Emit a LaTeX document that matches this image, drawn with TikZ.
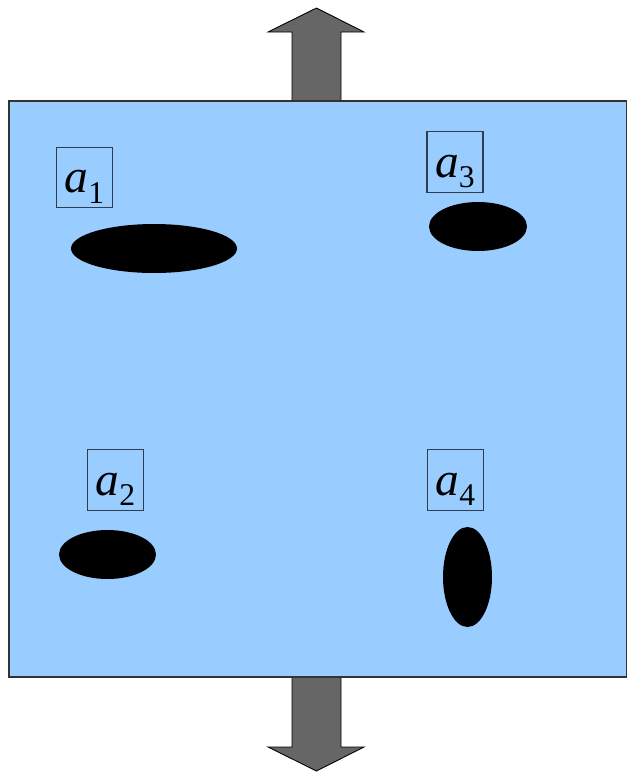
\documentclass[tikz,border=0pt]{standalone}
\usepackage{fontspec}
\setmainfont{Liberation Serif}
\usepackage{tikz}
\usetikzlibrary{shapes.geometric}
\usepackage{xcolor}
\definecolor{cSky}{RGB}{153,204,255}
\definecolor{cArrow}{RGB}{102,102,102}
\definecolor{cEdge}{RGB}{50,60,75}
\newcommand{\alab}[1]{\fontsize{27}{27}\selectfont\itshape a\raisebox{-6.2pt}{\upshape\fontsize{18}{18}\selectfont #1}}
\tikzset{
  plate/.style={draw=black!80, line width=0.6pt, fill=cSky},
  labelbox/.style={rectangle, draw=cEdge, line width=0.6pt, inner sep=0pt,
                   minimum width=1.12cm, minimum height=1.21cm,
                   text height=0.82cm, text depth=0.22cm},
  spot/.style={ellipse, fill=black, inner sep=0pt},
  blockarrow/.style={draw=black, line width=0.5pt, fill=cArrow, line join=miter}
}
\begin{document}
\begin{tikzpicture}[x=0.02cm, y=-0.02cm]
  \useasboundingbox (0,0) rectangle (627,772);

  % block arrows, up and down
  \draw[blockarrow] (292,101) -- (292,32) -- (268,32) -- (316.5,8)
    -- (364,32) -- (341,32) -- (341,101);
  \draw[blockarrow] (292,677) -- (292,747) -- (268,747) -- (316.5,771)
    -- (364,747) -- (341,747) -- (341,677);

  % the plate
  \draw[plate] (9,101) rectangle (626.5,677);

  % labels
  \node[labelbox] (a1) at (84.5,177.5) {\alab{1}};
  \node[labelbox] (a3) at (455,162)    {\alab{3}};
  \node[labelbox] (a2) at (115.5,480)  {\alab{2}};
  \node[labelbox] (a4) at (455.5,480)  {\alab{4}};

  % spots
  \node[spot, minimum width=3.32cm, minimum height=0.98cm] (s1) at (154,248.5) {};
  \node[spot, minimum width=1.96cm, minimum height=0.98cm] (s3) at (478,226.5) {};
  \node[spot, minimum width=1.94cm, minimum height=0.98cm] (s2) at (107.5,554.5) {};
  \node[spot, minimum width=0.98cm, minimum height=2.00cm] (s4) at (467.5,577) {};
\end{tikzpicture}
\end{document}
